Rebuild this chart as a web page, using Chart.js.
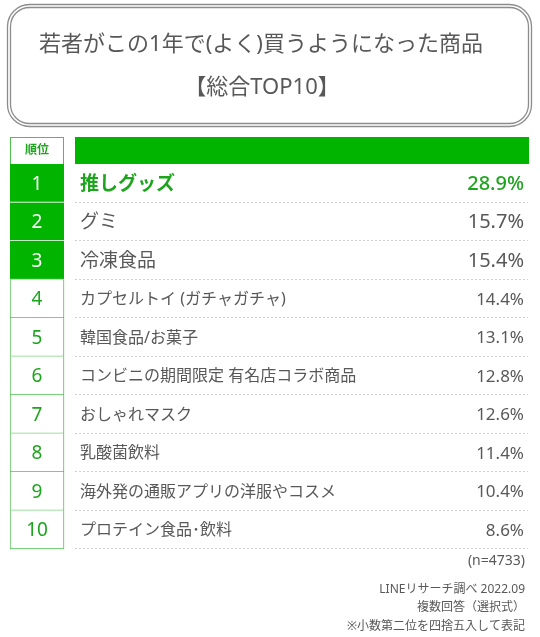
<!DOCTYPE html>
<html lang="ja">
<head>
    <meta charset="UTF-8">
    <title>若者がこの1年で(よく)買うようになった商品</title>
    <script src="https://cdn.jsdelivr.net/npm/chart.js"></script>
    <style>
        body { margin: 0; background: #fff; }
    </style>
</head>
<body>
    <canvas id="rankChart" width="540" height="637"></canvas>

    <script>
        // data
        const ranks = ['1', '2', '3', '4', '5', '6', '7', '8', '9', '10'];
        const items = [
            '推しグッズ',
            'グミ',
            '冷凍食品',
            'カプセルトイ (ガチャガチャ)',
            '韓国食品/お菓子',
            'コンビニの期間限定 有名店コラボ商品',
            'おしゃれマスク',
            '乳酸菌飲料',
            '海外発の通販アプリの洋服やコスメ',
            'プロテイン食品･飲料'
        ];
        const shares = [28.9, 15.7, 15.4, 14.4, 13.1, 12.8, 12.6, 11.4, 10.4, 8.6];
        const titleLines = ['若者がこの1年で(よく)買うようになった商品', '【総合TOP10】'];
        const headerLabel = '順位';
        const notes = ['(n=4733)', 'LINEリサーチ調べ 2022.09', '複数回答（選択式）', '※小数第二位を四捨五入して表記'];

        const GREEN = '#00b400';
        const LINE_GREEN = '#4cc24c';
        const TEXT_GREEN = '#1ea51e';
        const GRAY = '#585858';
        const FONT = '"Noto Sans", "Noto Sans CJK JP", sans-serif';
        const RANK_COL = 54;    // width of the rank column in x units (1 unit = 1px)
        const TOP_N = 3;

        function roundRect(ctx, x, y, w, h, r) {
            ctx.beginPath();
            ctx.moveTo(x + r, y);
            ctx.arcTo(x + w, y, x + w, y + h, r);
            ctx.arcTo(x + w, y + h, x, y + h, r);
            ctx.arcTo(x, y + h, x, y, r);
            ctx.arcTo(x, y, x + w, y, r);
            ctx.closePath();
            ctx.stroke();
        }

        // title box, header row, separators and all texts
        const tablePlugin = {
            id: 'tablePlugin',
            beforeDatasetsDraw(chart) {
                const ctx = chart.ctx;
                const area = chart.chartArea;
                const x = chart.scales.x;
                const y = chart.scales.y;
                const half = (y.getPixelForValue(1) - y.getPixelForValue(0)) / 2;
                const colLeft = x.getPixelForValue(RANK_COL) + 11;

                ctx.save();
                // title box (double line)
                ctx.strokeStyle = '#8c8c8c';
                ctx.lineWidth = 1.3;
                roundRect(ctx, 7.5, 4.5, 524, 122, 22);
                roundRect(ctx, 10.5, 7.5, 518, 116, 19);

                ctx.fillStyle = GRAY;
                ctx.textAlign = 'center';
                ctx.textBaseline = 'middle';
                ctx.font = '22px ' + FONT;
                ctx.fillText(titleLines[0], 261, 45);
                ctx.fillText(titleLines[1], 262, 88);

                // header row
                const headTop = area.top - 27;
                ctx.fillStyle = GREEN;
                ctx.fillRect(colLeft, headTop, area.right - colLeft, 27);
                ctx.strokeStyle = LINE_GREEN;
                ctx.lineWidth = 1;
                ctx.strokeRect(area.left + 0.5, headTop + 0.5, RANK_COL - 1, 27);
                ctx.fillStyle = TEXT_GREEN;
                ctx.font = 'bold 12px ' + FONT;
                ctx.fillText(headerLabel, area.left + RANK_COL / 2, headTop + 14);

                // dotted row separators
                ctx.strokeStyle = '#cfcfcf';
                ctx.setLineDash([2, 2]);
                ranks.forEach((r, i) => {
                    const yb = Math.round(y.getPixelForValue(i) + half) - 0.5;
                    ctx.beginPath();
                    ctx.moveTo(colLeft, yb);
                    ctx.lineTo(area.right - 1, yb);
                    ctx.stroke();
                });
                ctx.restore();
            },
            afterDatasetsDraw(chart) {
                const ctx = chart.ctx;
                const area = chart.chartArea;
                const x = chart.scales.x;
                const y = chart.scales.y;
                const textLeft = x.getPixelForValue(RANK_COL) + 16;
                const textRight = area.right - 5;

                ctx.save();
                ctx.textBaseline = 'middle';
                ranks.forEach((r, i) => {
                    const yc = y.getPixelForValue(i) + 1;
                    const top = i < TOP_N;
                    // rank number
                    ctx.textAlign = 'center';
                    ctx.fillStyle = top ? '#fff' : TEXT_GREEN;
                    ctx.font = '19px ' + FONT;
                    ctx.fillText(r, area.left + RANK_COL / 2, yc);
                    // item name
                    ctx.textAlign = 'left';
                    ctx.fillStyle = i === 0 ? TEXT_GREEN : GRAY;
                    ctx.font = (i === 0 ? '600 ' : '') + (top ? '19px ' : '16px ') + FONT;
                    ctx.fillText(items[i], textLeft, yc);
                    // share
                    ctx.textAlign = 'right';
                    ctx.font = (i === 0 ? '500 ' : '') + (top ? '20px ' : '17px ') + FONT;
                    ctx.fillText(shares[i].toFixed(1) + '%', textRight, yc);
                });

                // notes
                ctx.fillStyle = GRAY;
                ctx.font = '14px ' + FONT;
                ctx.fillText(notes[0], textRight + 1, 561);
                ctx.font = '12px ' + FONT;
                ctx.fillText(notes[1], textRight + 1, 590);
                ctx.fillText(notes[2], textRight + 1, 608);
                ctx.fillText(notes[3], textRight + 1, 627);
                ctx.restore();
            }
        };

        const ctx = document.getElementById('rankChart').getContext('2d');
        const chart = new Chart(ctx, {
            type: 'bar',
            data: {
                labels: ranks,
                datasets: [{
                    label: headerLabel,
                    data: ranks.map(() => [0, RANK_COL]),
                    backgroundColor: ranks.map((r, i) => i < TOP_N ? GREEN : '#fff'),
                    borderColor: ranks.map((r, i) => i < TOP_N - 1 ? 'rgba(255,255,255,0.75)' : LINE_GREEN),
                    borderWidth: ranks.map((r, i) => i < TOP_N
                        ? { top: 0, left: 0, right: 0, bottom: 1 }
                        : { top: 0, left: 1, right: 1, bottom: 1 }),
                    borderSkipped: false,
                    barPercentage: 1,
                    categoryPercentage: 1
                }]
            },
            options: {
                indexAxis: 'y',
                responsive: false,
                animation: false,
                layout: {
                    padding: { left: 10, right: 11, top: 164, bottom: 88 }
                },
                plugins: {
                    legend: { display: false },
                    tooltip: { enabled: false }
                },
                scales: {
                    x: { type: 'linear', min: 0, max: 519, display: false },
                    y: { type: 'category', display: false }
                }
            },
            plugins: [tablePlugin]
        });
    </script>
</body>
</html>
